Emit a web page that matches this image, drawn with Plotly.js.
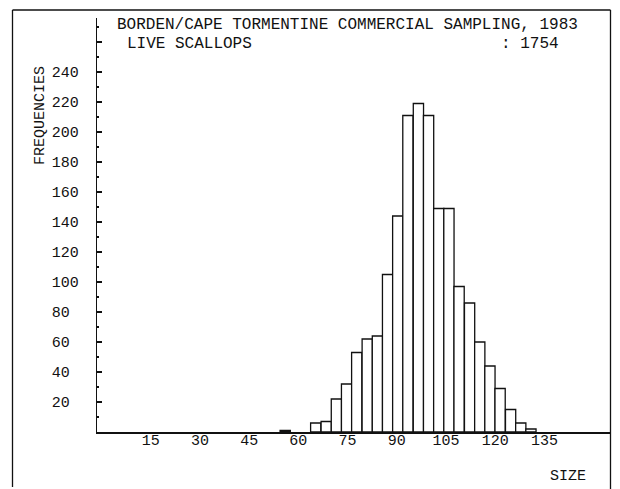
<!DOCTYPE html>
<html>
<head>
<meta charset="utf-8">
<script src="https://cdn.plot.ly/plotly-3.0.1.min.js"></script>
<style>
  html, body { margin: 0; padding: 0; background: #ffffff; }
  #chart { width: 620px; height: 489px; }
</style>
</head>
<body>
<div id="chart"></div>
<script>
// Size-class centres (as read against the SIZE axis) and their frequencies
const sizeClasses = [56.0, 65.3, 68.5, 71.6, 74.7, 77.8, 81.0, 84.1, 87.2, 90.3, 93.4, 96.6,
                     99.7, 102.8, 105.9, 109.0, 112.2, 115.3, 118.4, 121.5, 124.7, 127.8, 130.9];
const frequencies = [1, 6, 7, 22, 32, 53, 62, 64, 105, 144, 211, 219,
                     211, 149, 149, 97, 86, 60, 44, 29, 15, 6, 2];

const xTickVals = [15, 30, 45, 60, 75, 90, 105, 120, 135];
const xTickLabels = ['15', '30', '45', '60', '75', '90', '105', '120', '135'];
const yTickVals = [20, 40, 60, 80, 100, 120, 140, 160, 180, 200, 220, 240, 260];
const yTickLabels = ['20', '40', '60', '80', '100', '120', '140', '160', '180', '200', '220', '240', ''];

const titleLine1 = 'BORDEN/CAPE TORMENTINE COMMERCIAL SAMPLING, 1983';
const titleLine2 = 'LIVE SCALLOPS';
const sampleCount = ': 1754';
const yTitle = 'FREQUENCIES';
const xTitle = 'SIZE';

const FONT = 'Liberation Mono, DejaVu Sans Mono, monospace';
const INK = '#111111';

// pad 2-digit labels so they line up on the left like the plotter output
const yTickTextPadded = yTickLabels.map(s => s.length === 2 ? s + '\u00A0' : s);

const trace = {
  type: 'bar',
  x: sizeClasses,
  y: frequencies,
  width: 3.12,
  marker: { color: '#ffffff', line: { color: INK, width: 1.3 } },
  hoverinfo: 'x+y'
};

const W = 620, H = 489;
const L = 97, R = 10, T = 18, B = 57;
const pw = W - L - R, ph = H - T - B;
const px = v => (v - L) / pw;          // page x -> paper x
const py = v => (H - B - v) / ph;      // page y -> paper y

const layout = {
  width: W, height: H,
  margin: { l: L, r: R, t: T, b: B, pad: 0 },
  paper_bgcolor: '#ffffff',
  plot_bgcolor: '#ffffff',
  showlegend: false,
  bargap: 0,
  font: { family: FONT, size: 15, color: INK },
  xaxis: {
    range: [-1.37, 155.0],
    tickmode: 'array',
    tickvals: xTickVals,
    ticktext: xTickLabels,
    ticks: '',
    showgrid: false,
    zeroline: false,
    showline: true,
    linecolor: INK,
    linewidth: 1.6,
    tickfont: { family: FONT, size: 15, color: INK },
    ticklabelstandoff: -7,
    fixedrange: true
  },
  yaxis: {
    range: [0, 276],
    tickmode: 'array',
    tickvals: yTickVals,
    ticktext: yTickTextPadded,
    ticks: 'inside',
    ticklen: 5,
    tickwidth: 1.3,
    tickcolor: INK,
    minor: { tickmode: 'linear', tick0: 0, dtick: 10, ticks: 'inside', ticklen: 2, tickwidth: 1.2, tickcolor: INK },
    showgrid: false,
    zeroline: false,
    showline: true,
    linecolor: INK,
    linewidth: 1.3,
    tickfont: { family: FONT, size: 15, color: INK },
    ticklabelstandoff: 14,
    fixedrange: true
  },
  annotations: [
    { text: titleLine1, xref: 'paper', yref: 'paper', x: px(116), y: py(25.5), xanchor: 'left', yanchor: 'middle',
      showarrow: false, font: { family: FONT, size: 16, color: INK }, borderpad: 0 },
    { text: titleLine2, xref: 'paper', yref: 'paper', x: px(125.5), y: py(43.5), xanchor: 'left', yanchor: 'middle',
      showarrow: false, font: { family: FONT, size: 16, color: INK }, borderpad: 0 },
    { text: sampleCount, xref: 'paper', yref: 'paper', x: px(500), y: py(43.5), xanchor: 'left', yanchor: 'middle',
      showarrow: false, font: { family: FONT, size: 16, color: INK }, borderpad: 0 },
    { text: yTitle, xref: 'paper', yref: 'paper', x: px(40), y: py(116), xanchor: 'center', yanchor: 'middle',
      textangle: -90, showarrow: false, font: { family: FONT, size: 15, color: INK }, borderpad: 0 },
    { text: xTitle, xref: 'paper', yref: 'paper', x: px(568), y: py(476), xanchor: 'center', yanchor: 'middle',
      showarrow: false, font: { family: FONT, size: 15, color: INK }, borderpad: 0 }
  ],
  shapes: [
    // outer frame of the original plotter sheet
    { type: 'line', xref: 'paper', yref: 'paper', x0: px(12.5), x1: px(12.5), y0: py(10), y1: py(487),
      line: { color: INK, width: 1.3 } },
    { type: 'line', xref: 'paper', yref: 'paper', x0: px(12.5), x1: px(610.5), y0: py(10), y1: py(10),
      line: { color: INK, width: 1.3 } },
    { type: 'line', xref: 'paper', yref: 'paper', x0: px(610.5), x1: px(610.5), y0: py(10), y1: py(492),
      line: { color: INK, width: 1.3 } }
  ]
};

Plotly.newPlot('chart', [trace], layout, { displayModeBar: false, staticPlot: true });
</script>
</body>
</html>
